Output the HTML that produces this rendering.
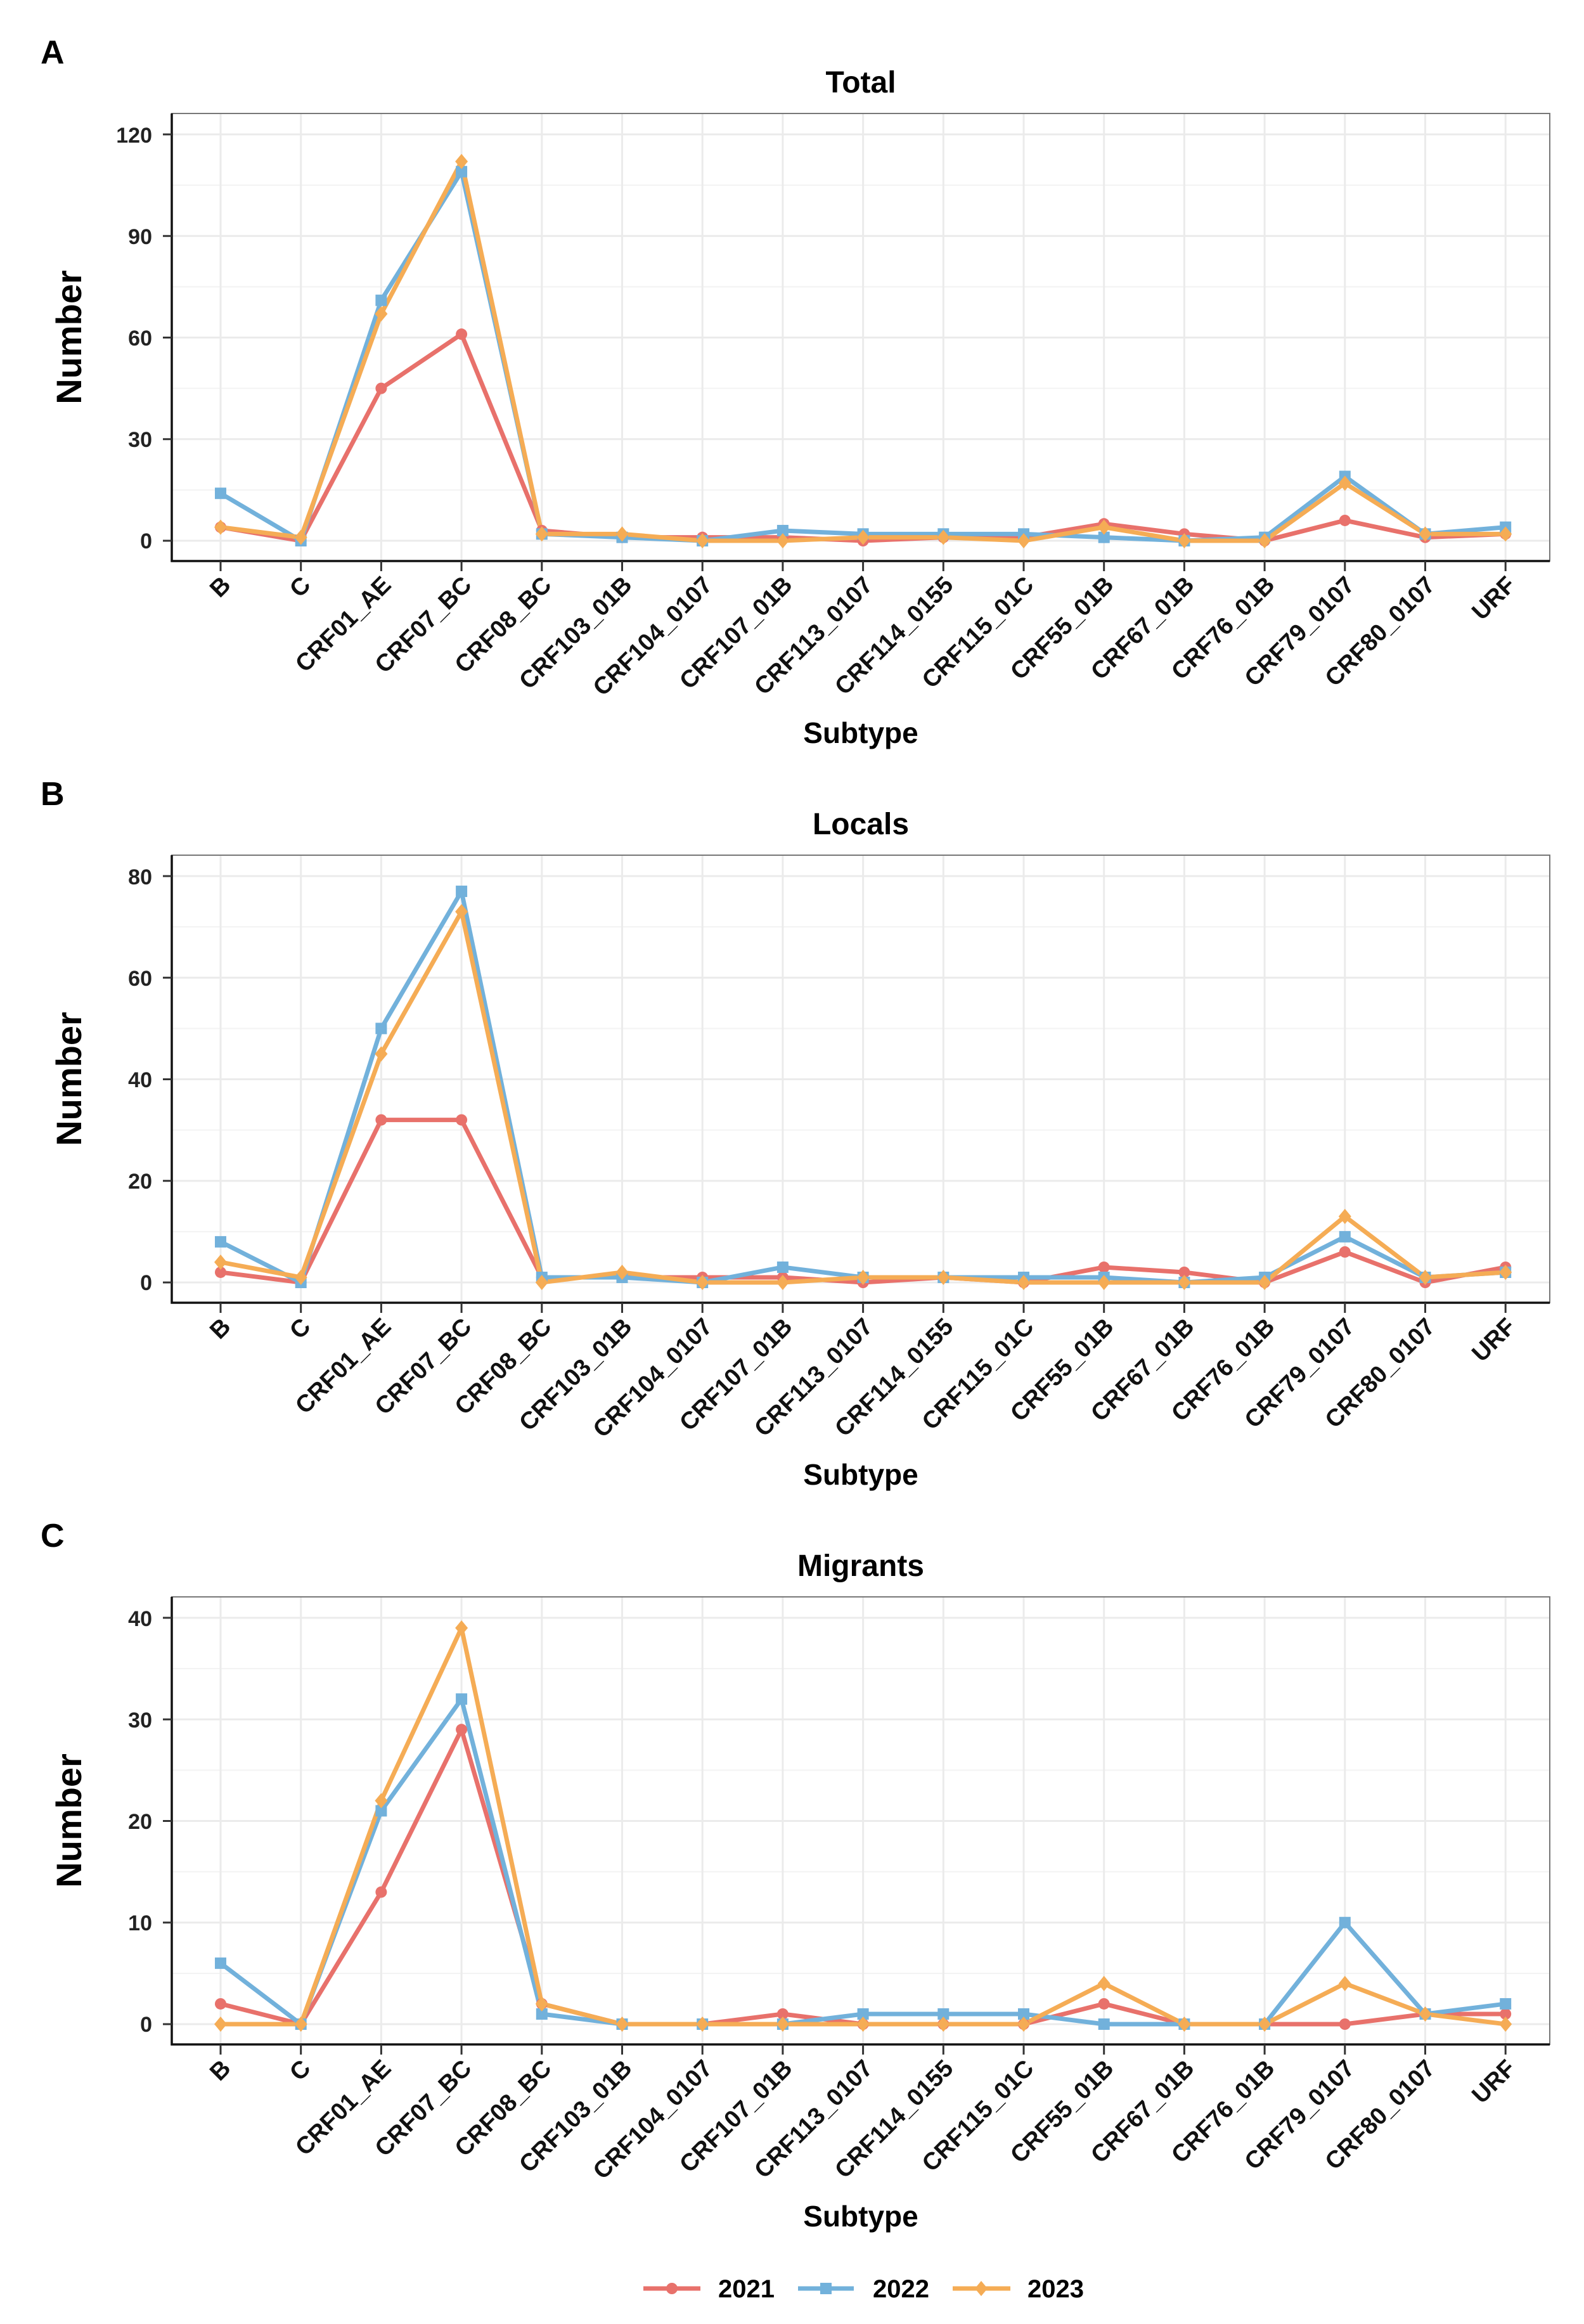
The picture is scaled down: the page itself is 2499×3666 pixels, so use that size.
<!DOCTYPE html>
<html><head><meta charset="utf-8"><style>
html,body{margin:0;padding:0;background:#fff;}
svg{display:block;font-family:"Liberation Sans",Arial,sans-serif;}
.tl{font-size:34px;font-weight:bold;fill:#222;text-anchor:end;}
.xl{font-size:38px;font-weight:bold;fill:#111;text-anchor:end;}
.ti{font-size:48px;font-weight:bold;text-anchor:middle;}
.ax{font-size:46px;font-weight:bold;text-anchor:middle;}
.nb{font-size:56px;font-weight:bold;text-anchor:middle;}
.pl{font-size:52px;font-weight:bold;}
</style></head><body>
<svg id="s" width="2499" height="3666" viewBox="0 0 2499 3666" xmlns="http://www.w3.org/2000/svg">
<rect width="2499" height="3666" fill="#fff"/>
<g id="p0">
<text class="pl" x="64" y="100">A</text>
<text class="ti" x="1358" y="146">Total</text>
<text class="nb" transform="translate(128,532) rotate(-90)">Number</text>
<text class="ax" x="1358" y="1172">Subtype</text>
<text class="tl" x="240" y="865">0</text><text class="tl" x="240" y="705">30</text><text class="tl" x="240" y="545">60</text><text class="tl" x="240" y="385">90</text><text class="tl" x="240" y="225">120</text>
</g>
<g transform="translate(0,1170)">
<text class="pl" x="64" y="100">B</text>
<text class="ti" x="1358" y="146">Locals</text>
<text class="nb" transform="translate(128,532) rotate(-90)">Number</text>
<text class="ax" x="1358" y="1172">Subtype</text>
<text class="tl" x="240" y="865">0</text><text class="tl" x="240" y="705">20</text><text class="tl" x="240" y="545">40</text><text class="tl" x="240" y="385">60</text><text class="tl" x="240" y="225">80</text>
</g>
<g transform="translate(0,2340)">
<text class="pl" x="64" y="100">C</text>
<text class="ti" x="1358" y="146">Migrants</text>
<text class="nb" transform="translate(128,532) rotate(-90)">Number</text>
<text class="ax" x="1358" y="1172">Subtype</text>
<text class="tl" x="240" y="865">0</text><text class="tl" x="240" y="705">10</text><text class="tl" x="240" y="545">20</text><text class="tl" x="240" y="385">30</text><text class="tl" x="240" y="225">40</text>
</g>
<g>
<text class="xl" transform="translate(366,925) rotate(-45)">B</text>
<text class="xl" transform="translate(492,925) rotate(-45)">C</text>
<text class="xl" transform="translate(619,925) rotate(-45)">CRF01_AE</text>
<text class="xl" transform="translate(746,925) rotate(-45)">CRF07_BC</text>
<text class="xl" transform="translate(872,925) rotate(-45)">CRF08_BC</text>
<text class="xl" transform="translate(999,925) rotate(-45)">CRF103_01B</text>
<text class="xl" transform="translate(1126,925) rotate(-45)">CRF104_0107</text>
<text class="xl" transform="translate(1252,925) rotate(-45)">CRF107_01B</text>
<text class="xl" transform="translate(1379,925) rotate(-45)">CRF113_0107</text>
<text class="xl" transform="translate(1506,925) rotate(-45)">CRF114_0155</text>
<text class="xl" transform="translate(1633,925) rotate(-45)">CRF115_01C</text>
<text class="xl" transform="translate(1759,925) rotate(-45)">CRF55_01B</text>
<text class="xl" transform="translate(1886,925) rotate(-45)">CRF67_01B</text>
<text class="xl" transform="translate(2013,925) rotate(-45)">CRF76_01B</text>
<text class="xl" transform="translate(2139,925) rotate(-45)">CRF79_0107</text>
<text class="xl" transform="translate(2266,925) rotate(-45)">CRF80_0107</text>
<text class="xl" transform="translate(2393,925) rotate(-45)">URF</text>
</g>
<g transform="translate(0,1170)">
<text class="xl" transform="translate(366,925) rotate(-45)">B</text>
<text class="xl" transform="translate(492,925) rotate(-45)">C</text>
<text class="xl" transform="translate(619,925) rotate(-45)">CRF01_AE</text>
<text class="xl" transform="translate(746,925) rotate(-45)">CRF07_BC</text>
<text class="xl" transform="translate(872,925) rotate(-45)">CRF08_BC</text>
<text class="xl" transform="translate(999,925) rotate(-45)">CRF103_01B</text>
<text class="xl" transform="translate(1126,925) rotate(-45)">CRF104_0107</text>
<text class="xl" transform="translate(1252,925) rotate(-45)">CRF107_01B</text>
<text class="xl" transform="translate(1379,925) rotate(-45)">CRF113_0107</text>
<text class="xl" transform="translate(1506,925) rotate(-45)">CRF114_0155</text>
<text class="xl" transform="translate(1633,925) rotate(-45)">CRF115_01C</text>
<text class="xl" transform="translate(1759,925) rotate(-45)">CRF55_01B</text>
<text class="xl" transform="translate(1886,925) rotate(-45)">CRF67_01B</text>
<text class="xl" transform="translate(2013,925) rotate(-45)">CRF76_01B</text>
<text class="xl" transform="translate(2139,925) rotate(-45)">CRF79_0107</text>
<text class="xl" transform="translate(2266,925) rotate(-45)">CRF80_0107</text>
<text class="xl" transform="translate(2393,925) rotate(-45)">URF</text>
</g>
<g transform="translate(0,2340)">
<text class="xl" transform="translate(366,925) rotate(-45)">B</text>
<text class="xl" transform="translate(492,925) rotate(-45)">C</text>
<text class="xl" transform="translate(619,925) rotate(-45)">CRF01_AE</text>
<text class="xl" transform="translate(746,925) rotate(-45)">CRF07_BC</text>
<text class="xl" transform="translate(872,925) rotate(-45)">CRF08_BC</text>
<text class="xl" transform="translate(999,925) rotate(-45)">CRF103_01B</text>
<text class="xl" transform="translate(1126,925) rotate(-45)">CRF104_0107</text>
<text class="xl" transform="translate(1252,925) rotate(-45)">CRF107_01B</text>
<text class="xl" transform="translate(1379,925) rotate(-45)">CRF113_0107</text>
<text class="xl" transform="translate(1506,925) rotate(-45)">CRF114_0155</text>
<text class="xl" transform="translate(1633,925) rotate(-45)">CRF115_01C</text>
<text class="xl" transform="translate(1759,925) rotate(-45)">CRF55_01B</text>
<text class="xl" transform="translate(1886,925) rotate(-45)">CRF67_01B</text>
<text class="xl" transform="translate(2013,925) rotate(-45)">CRF76_01B</text>
<text class="xl" transform="translate(2139,925) rotate(-45)">CRF79_0107</text>
<text class="xl" transform="translate(2266,925) rotate(-45)">CRF80_0107</text>
<text class="xl" transform="translate(2393,925) rotate(-45)">URF</text>
</g>
<g id="leg">
<line x1="1015" y1="3610" x2="1105" y2="3610" stroke="#E8716B" stroke-width="7"/>
<circle cx="1060" cy="3610" r="9" fill="#E8716B"/>
<text x="1133" y="3624" style="font-size:40px;font-weight:bold">2021</text>
<line x1="1259" y1="3610" x2="1347" y2="3610" stroke="#72B1DB" stroke-width="7"/>
<rect x="1294" y="3601" width="18" height="18" fill="#72B1DB"/>
<text x="1377" y="3624" style="font-size:40px;font-weight:bold">2022</text>
<line x1="1503" y1="3610" x2="1594" y2="3610" stroke="#F5AC55" stroke-width="7"/>
<polygon points="1548,3598 1558,3610 1548,3622 1538,3610" fill="#F5AC55"/>
<text x="1621" y="3624" style="font-size:40px;font-weight:bold">2023</text>
</g>
<g id="dyn"></g>
</svg>
<script>
(function(){
var NS="http://www.w3.org/2000/svg",g=document.getElementById("dyn");
function el(n,a,p){var e=document.createElementNS(NS,n);for(var k in a)e.setAttribute(k,a[k]);(p||g).appendChild(e);return e;}
var X=[];for(var i=0;i<17;i++)X.push(348+126.7*i);
var L=271,R=2445,T=179,B=885,Z=853,TOP=212;
var panels=[
 {max:120,d:[[4,0,45,61,3,1,1,1,0,1,1,5,2,0,6,1,2],[14,0,71,109,2,1,0,3,2,2,2,1,0,1,19,2,4],[4,1,67,112,2,2,0,0,1,1,0,4,0,0,17,2,2]]},
 {max:80,d:[[2,0,32,32,1,1,1,1,0,1,0,3,2,0,6,0,3],[8,0,50,77,1,1,0,3,1,1,1,1,0,1,9,1,2],[4,1,45,73,0,2,0,0,1,1,0,0,0,0,13,1,2]]},
 {max:40,d:[[2,0,13,29,2,0,0,1,0,0,0,2,0,0,0,1,1],[6,0,21,32,1,0,0,0,1,1,1,0,0,0,10,1,2],[0,0,22,39,2,0,0,0,0,0,0,4,0,0,4,1,0]]}];
var C=["#E8716B","#72B1DB","#F5AC55"];
panels.forEach(function(p,pi){
 var gg=el("g",{transform:"translate(0,"+(pi*1170)+")"});
 var sc=(Z-TOP)/p.max;
 for(var k=0;k<=8;k++){var y=Z-k*(Z-TOP)/8;if(y<T)continue;el("line",{x1:L,x2:R,y1:y,y2:y,stroke:k%2?"#f3f3f3":"#ebebeb","stroke-width":k%2?2:3},gg);}
 X.forEach(function(x){el("line",{x1:x,x2:x,y1:T,y2:B,stroke:"#ebebeb","stroke-width":3},gg);});
 el("rect",{x:L,y:T,width:R-L,height:B-T,fill:"none",stroke:"#777","stroke-width":2},gg);
 el("line",{x1:L,x2:L,y1:T,y2:B+1.5,stroke:"#111","stroke-width":3.5},gg);
 el("line",{x1:L-1.5,x2:R,y1:B,y2:B,stroke:"#111","stroke-width":3.5},gg);
 for(var k=0;k<=4;k++){var y=Z-k*(Z-TOP)/4;el("line",{x1:L-14,x2:L,y1:y,y2:y,stroke:"#333","stroke-width":3},gg);}
 X.forEach(function(x){el("line",{x1:x,x2:x,y1:B,y2:B+16,stroke:"#333","stroke-width":3},gg);});
 p.d.forEach(function(s,si){
  var pts=s.map(function(v,i){return X[i]+","+(Z-v*sc);}).join(" ");
  el("polyline",{points:pts,fill:"none",stroke:C[si],"stroke-width":7,"stroke-linejoin":"round"},gg);
 });
 p.d.forEach(function(s,si){
  s.forEach(function(v,i){var x=X[i],y=Z-v*sc;
   if(si==0)el("circle",{cx:x,cy:y,r:9,fill:C[0]},gg);
   else if(si==1)el("rect",{x:x-9,y:y-9,width:18,height:18,fill:C[1]},gg);
   else el("polygon",{points:x+","+(y-12)+" "+(x+10)+","+y+" "+x+","+(y+12)+" "+(x-10)+","+y,fill:C[2]},gg);
  });
 });
});
var s=document.getElementById("s");s.insertBefore(g,s.children[1]);
})();
</script>
</body></html>
